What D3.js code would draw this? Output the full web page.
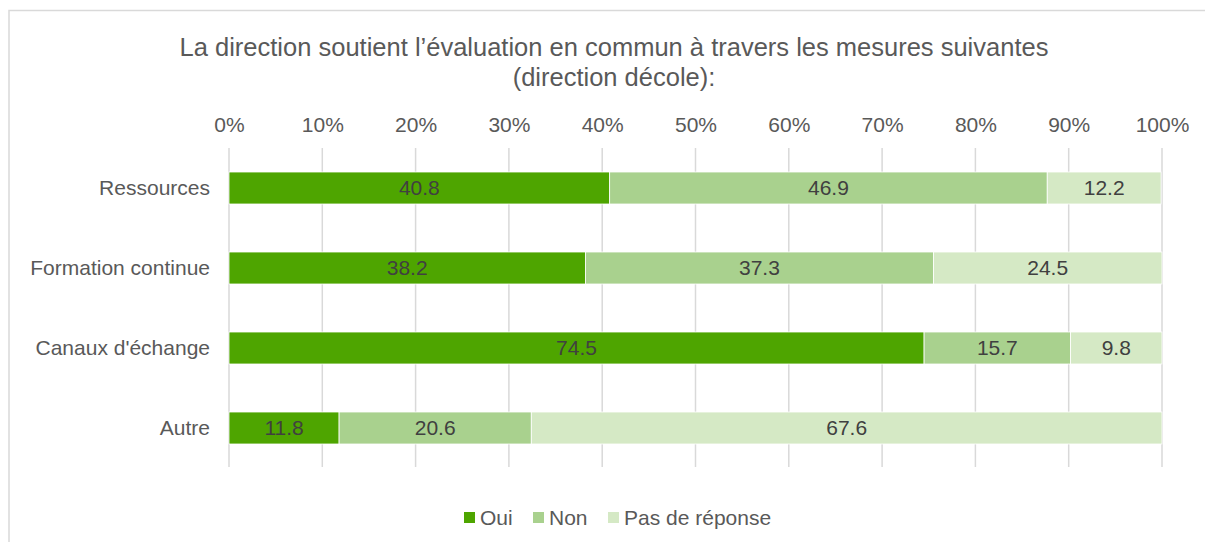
<!DOCTYPE html>
<html>
<head>
<meta charset="utf-8">
<script src="https://cdn.jsdelivr.net/npm/d3@7"></script>
<style>
  body { margin: 0; background: #fff; }
  svg { font-family: "Liberation Sans", Arial, sans-serif; }
</style>
</head>
<body>
<svg id="chart" width="1205" height="542"></svg>
<script>
// data
const categories = ["Ressources", "Formation continue", "Canaux d'échange", "Autre"];
const seriesNames = ["Oui", "Non", "Pas de réponse"];
const oui = [40.8, 38.2, 74.5, 11.8];
const non = [46.9, 37.3, 15.7, 20.6];
const pasDeReponse = [12.2, 24.5, 9.8, 67.6];
const tickValues = [0, 10, 20, 30, 40, 50, 60, 70, 80, 90, 100];
const colors = ["#4ea500", "#a9d18e", "#d5e9c5"];

const rows = categories.map((c, i) => ({ cat: c, "Oui": oui[i], "Non": non[i], "Pas de réponse": pasDeReponse[i] }));
const stacked = d3.stack().keys(seriesNames)(rows);

const svg = d3.select("#chart");
const textColor = "#595959";
const fontSize = "21px";

// chart border
svg.append("rect")
  .attr("x", 9).attr("y", 10.5).attr("width", 1205).attr("height", 560)
  .attr("fill", "none").attr("stroke", "#d9d9d9").attr("stroke-width", 1.5);

// title
const title = svg.append("text")
  .attr("text-anchor", "middle").attr("fill", textColor)
  .style("font-size", "25.5px");
title.append("tspan").attr("x", 614).attr("y", 56).text("La direction soutient l’évaluation en commun à travers les mesures suivantes");
title.append("tspan").attr("x", 614).attr("y", 86).text("(direction décole):");

const x = d3.scaleLinear().domain([0, 100]).range([229, 1162]);
const y = d3.scaleBand().domain(categories).range([148, 468]).paddingInner(0.6).paddingOuter(0.3);
const color = d3.scaleOrdinal().domain(seriesNames).range(colors);

// gridlines
svg.append("g").selectAll("line").data(tickValues).join("line")
  .attr("x1", d => x(d)).attr("x2", d => x(d))
  .attr("y1", 148).attr("y2", 467)
  .attr("stroke", "#d9d9d9").attr("stroke-width", 1.5);

// top axis labels
const xAxis = svg.append("g")
  .attr("transform", "translate(0,132)")
  .call(d3.axisTop(x).tickValues(tickValues).tickFormat(d => d + "%").tickSize(0).tickPadding(0));
xAxis.select(".domain").remove();
xAxis.selectAll("text").attr("fill", textColor).style("font-size", fontSize)
  .style("font-family", "'Liberation Sans', Arial, sans-serif");

// category axis
const yAxis = svg.append("g")
  .attr("transform", "translate(229,0)")
  .call(d3.axisLeft(y).tickSize(0).tickPadding(19));
yAxis.select(".domain").remove();
yAxis.selectAll("text").attr("fill", textColor).style("font-size", fontSize)
  .style("font-family", "'Liberation Sans', Arial, sans-serif");

// bars
const layer = svg.append("g").selectAll("g").data(stacked).join("g")
  .attr("fill", d => color(d.key));
layer.selectAll("rect").data(d => d).join("rect")
  .attr("x", d => x(d[0]))
  .attr("y", d => y(d.data.cat))
  .attr("width", d => x(d[1]) - x(d[0]))
  .attr("height", y.bandwidth())
  .attr("stroke", "#fff").attr("stroke-width", 0.8);

// data labels
layer.selectAll("text").data(d => d).join("text")
  .attr("x", d => (x(d[0]) + x(d[1])) / 2)
  .attr("y", d => y(d.data.cat) + y.bandwidth() / 2)
  .attr("dy", "0.35em")
  .attr("text-anchor", "middle")
  .attr("fill", "#404040")
  .style("font-size", fontSize)
  .text(d => (d[1] - d[0]).toFixed(1));

// legend
const legendX = [464, 533, 608];
const legend = svg.append("g").selectAll("g").data(seriesNames).join("g")
  .attr("transform", (d, i) => `translate(${legendX[i]},512)`);
legend.append("rect").attr("width", 11).attr("height", 11).attr("fill", d => color(d));
legend.append("text").attr("x", 16).attr("y", 5.5).attr("dy", "0.35em")
  .attr("fill", textColor).style("font-size", fontSize).text(d => d);
</script>
</body>
</html>
